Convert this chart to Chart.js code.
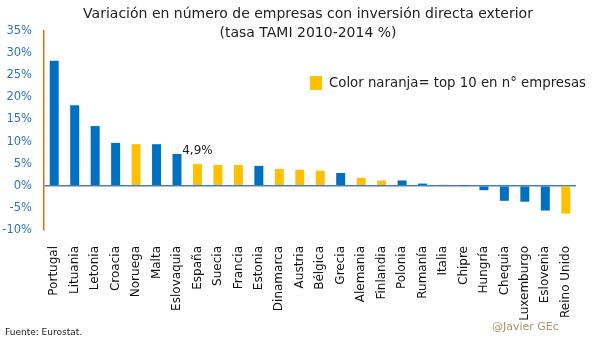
<!DOCTYPE html>
<html>
<head>
<meta charset="utf-8">
<script src="https://cdn.jsdelivr.net/npm/chart.js@4.4.1/dist/chart.umd.min.js"></script>
<style>
  html, body { margin: 0; padding: 0; background: #fff; }
  #wrap { position: relative; width: 605px; height: 342px; }
</style>
</head>
<body>
<div id="wrap"><canvas id="myChart" width="605" height="342"></canvas></div>
<script>
// data
const paises = ["Portugal", "Lituania", "Letonia", "Croacia", "Noruega", "Malta", "Eslovaquia",
  "España", "Suecia", "Francia", "Estonia", "Dinamarca", "Austria", "Bélgica", "Grecia",
  "Alemania", "Finlandia", "Polonia", "Rumanía", "Italia", "Chipre", "Hungría", "Chequia",
  "Luxemburgo", "Eslovenia", "Reino Unido"];
const tami = [28.3, 18.2, 13.5, 9.7, 9.4, 9.4, 7.2, 4.9, 4.7, 4.7, 4.5, 3.8, 3.6, 3.4, 2.9,
  1.8, 1.2, 1.2, 0.5, 0.25, 0.05, -1.0, -3.4, -3.6, -5.6, -6.3];
const top10 = ["Noruega", "España", "Suecia", "Francia", "Dinamarca", "Austria", "Bélgica",
  "Alemania", "Finlandia", "Italia", "Reino Unido"];
const etiquetas = { "España": "4,9%" };

const AZUL = "#0070C0";
const NARANJA = "#FFC000";
const FONT = "'DejaVu Sans', sans-serif";

const ctx = document.getElementById("myChart").getContext("2d");

//Texts drawn on the canvas
const textos = {
  id: "textos",
  afterDraw(chart) {
    const c = chart.ctx;
    c.save();
    c.fillStyle = "#222";
    c.textAlign = "center";
    c.textBaseline = "middle";
    c.font = "14px " + FONT;
    c.fillText("Variación en número de empresas con inversión directa exterior", 308, 14);
    c.fillText("(tasa TAMI 2010-2014 %)", 308, 33);

    // legend
    c.fillStyle = NARANJA;
    c.fillRect(310, 76, 12, 14);
    c.fillStyle = "#222";
    c.textAlign = "left";
    c.font = "13.3px " + FONT;
    c.fillText("Color naranja= top 10 en n° empresas", 329, 84);

    // data label
    const meta = chart.getDatasetMeta(0);
    meta.data.forEach((bar, i) => {
      const t = etiquetas[paises[i]];
      if (t) {
        c.textAlign = "center";
        c.textBaseline = "middle";
        c.font = "12px " + FONT;
        c.fillText(t, bar.x, bar.y - 13);
      }
    });

    // footer
    c.textBaseline = "middle";
    c.textAlign = "left";
    c.font = "9px " + FONT;
    c.fillStyle = "#222";
    c.fillText("Fuente: Eurostat.", 5, 333);
    c.fillStyle = "#A8946A";
    c.font = "11px " + FONT;
    c.fillText("@Javier GEc", 492, 327);
    c.restore();
  }
};

const config = {
  type: "bar",
  data: {
    labels: paises,
    datasets: [{
      data: tami,
      backgroundColor: paises.map(p => top10.includes(p) ? NARANJA : AZUL),
      categoryPercentage: 0.44,
      barPercentage: 1.0
    }]
  },
  options: {
    responsive: false,
    animation: false,
    layout: { padding: { top: 31, right: 29, left: 0, bottom: 0 } },
    plugins: { legend: { display: false }, tooltip: { enabled: false } },
    scales: {
      x: {
        grid: { display: false },
        border: { display: false },
        afterFit(scale) { scale.height = 342 - 31 - 199; },
        ticks: {
          color: "#111",
          font: { family: FONT, size: 12 },
          minRotation: 90,
          maxRotation: 90,
          autoSkip: false,
          padding: 8
        }
      },
      y: {
        min: -10,
        max: 35,
        afterFit(scale) { scale.width = 44; },
        border: { display: true, color: "#E46C0A", width: 1.5 },
        grid: {
          drawTicks: false,
          color: c => c.tick && c.tick.value === 0 ? "#4A7EBB" : "rgba(0,0,0,0)",
          lineWidth: 1.5
        },
        ticks: {
          stepSize: 5,
          padding: 12,
          color: "#2E75B6",
          font: { family: FONT, size: 11.5 },
          callback: v => v + "%"
        }
      }
    }
  },
  plugins: [textos]
};

const myChart = new Chart(ctx, config);
</script>
</body>
</html>
